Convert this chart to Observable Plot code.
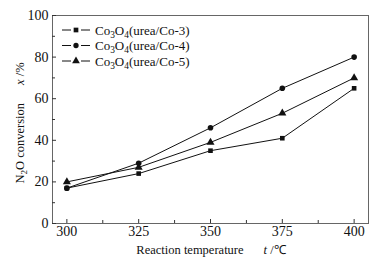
<!DOCTYPE html>
<html><head><meta charset="utf-8">
<script src="https://cdn.jsdelivr.net/npm/d3@7"></script>
<script src="https://cdn.jsdelivr.net/npm/@observablehq/plot@0.6"></script>
<style>
html,body{margin:0;padding:0;background:#fff;}
svg{font-family:"Liberation Serif","Times New Roman",serif;}
</style>
</head><body>
<div id="chart"></div>
<script>
const temperatures = [300, 325, 350, 375, 400];
const seriesNames = ["Co3O4(urea/Co-3)", "Co3O4(urea/Co-4)", "Co3O4(urea/Co-5)"];
const co3 = [17, 24, 35, 41, 65];
const co4 = [17, 29, 46, 65, 80];
const co5 = [20, 27, 39, 53, 70];
const symbols = ["square", "circle", "triangle"];
const yTicks = [0, 20, 40, 60, 80, 100];
const yMinorTicks = [10, 30, 50, 70, 90];
const xTicks = [300, 325, 350, 375, 400];
const xMinorTicks = [312.5, 337.5, 362.5, 387.5];
const xLabel = "Reaction temperature";
const yLabel = "N2O conversion";

const valuesList = [co3, co4, co5];
const data = [];
seriesNames.forEach((s, i) => temperatures.forEach((t, j) => data.push({series: s, t, v: valuesList[i][j], sym: symbols[i]})));

const W = 385, H = 263;
const mL = 52, mR = 17, mT = 15, mB = 40;

const plot = Plot.plot({
  width: W, height: H,
  marginLeft: mL, marginRight: mR, marginTop: mT, marginBottom: mB,
  style: {fontFamily: "Liberation Serif, Times New Roman, serif", fontSize: "14px", color: "#111", background: "white"},
  x: {domain: [295, 405]},
  y: {domain: [0, 100]},
  symbol: {domain: symbols, range: symbols},
  marks: [
    Plot.frame({stroke: "#666", strokeWidth: 1}),
    Plot.axisY({ticks: yTicks, tickSize: -4, tickPadding: 8, label: null, stroke: "#333", fontSize: 14}),
    Plot.axisY({ticks: yMinorTicks, tickSize: -3, tickFormat: () => "", label: null, stroke: "#333"}),
    Plot.axisX({ticks: xTicks, tickSize: -4, tickPadding: 7, label: null, stroke: "#333", fontSize: 14}),
    Plot.axisX({ticks: xMinorTicks, tickSize: -3, tickFormat: () => "", label: null, stroke: "#333"}),
    Plot.line(data, {x: "t", y: "v", z: "series", stroke: "#111", strokeWidth: 1}),
    Plot.dot(data.filter(d => d.sym === "square"), {x: "t", y: "v", symbol: "sym", fill: "#111", stroke: "none", r: 2.6}),
    Plot.dot(data.filter(d => d.sym === "circle"), {x: "t", y: "v", symbol: "sym", fill: "#111", stroke: "none", r: 2.8}),
    Plot.dot(data.filter(d => d.sym === "triangle"), {x: "t", y: "v", symbol: "sym", fill: "#111", stroke: "none", r: 3.0})
  ]
});
document.getElementById("chart").appendChild(plot);

const svg = d3.select(plot);

function subText(sel, str, shift) {
  const re = /([A-Za-z])(\d)/g;
  let last = 0, m, down = false;
  while ((m = re.exec(str)) !== null) {
    const before = str.slice(last, m.index + 1);
    if (before) sel.append("tspan").attr("dy", down ? -shift : null).text(before);
    sel.append("tspan").attr("dy", shift).attr("font-size", "0.72em").text(m[2]);
    down = true;
    last = m.index + 2;
  }
  if (last < str.length) sel.append("tspan").attr("dy", down ? -shift : null).text(str.slice(last));
}

// Legend
const lg = svg.append("g").attr("font-size", 13).attr("fill", "#111").attr("text-anchor", "start");
seriesNames.forEach((s, i) => {
  const yy = 30 + i * 15.5;
  lg.append("line").attr("x1", 62).attr("x2", 71).attr("y1", yy).attr("y2", yy).attr("stroke", "#111").attr("stroke-width", 1);
  lg.append("line").attr("x1", 81).attr("x2", 90).attr("y1", yy).attr("y2", yy).attr("stroke", "#111").attr("stroke-width", 1);
  const sym = d3.symbol().type(i === 0 ? d3.symbolSquare : i === 1 ? d3.symbolCircle : d3.symbolTriangle).size(i === 2 ? 26 : 22);
  lg.append("path").attr("d", sym()).attr("transform", `translate(76,${yy})`).attr("fill", "#111");
  const t = lg.append("text").attr("x", 95).attr("y", yy + 4.5).attr("text-anchor", "start");
  subText(t, s, 3);
});

// X axis title
const xt = svg.append("text").attr("x", 211).attr("y", 254).attr("text-anchor", "middle").attr("font-size", 12.5).attr("fill", "#111");
xt.append("tspan").text(xLabel);
xt.append("tspan").attr("dx", 20).attr("font-style", "italic").text("t");
xt.append("tspan").text(" /℃");

// Y axis title
const yt = svg.append("text").attr("transform", "translate(24,123) rotate(-90)").attr("text-anchor", "middle").attr("font-size", 12.5).attr("fill", "#111");
subText(yt, yLabel, 3);
yt.append("tspan").attr("dx", 18).attr("font-style", "italic").text("x");
yt.append("tspan").text(" /%");
</script>
</body></html>
